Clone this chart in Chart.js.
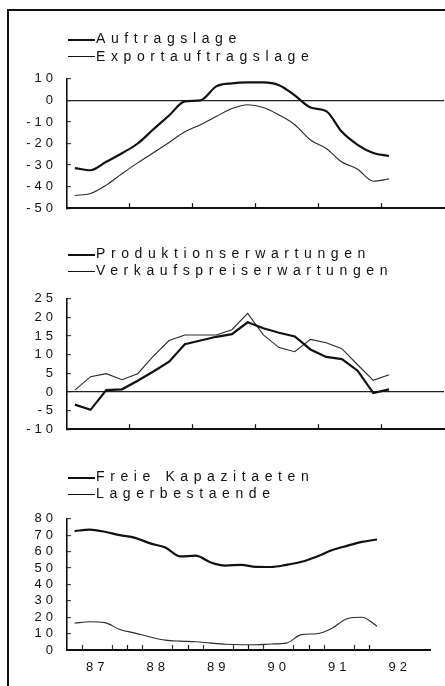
<!DOCTYPE html>
<html>
<head>
<meta charset="utf-8">
<script src="https://cdn.jsdelivr.net/npm/chart.js@4.4.1/dist/chart.umd.min.js"></script>
<style>
    html, body { margin: 0; padding: 0; background: #fff; }
    #page { position: relative; width: 445px; height: 686px; overflow: hidden; }
    #frame { position: absolute; left: 7px; top: 9px; width: 440px; height: 680px;
             border-top: 2px solid #111; border-left: 2px solid #111; }
    canvas { position: absolute; left: 0; }
    .leg { position: absolute; left: 68px; height: 17px; line-height: 17px;
           font-family: 'Liberation Sans', Arial, sans-serif; font-size: 14px; letter-spacing: 5.6px;
           color: #111; white-space: nowrap; }
    .leg .ln { position: absolute; left: 0; width: 27px; background: #111; }
    .leg .tx { position: absolute; left: 28px; }
</style>
</head>
<body>
<div id="page">
    <div id="frame"></div>
    <canvas id="c1" width="445" height="173" style="top:57px"></canvas>
    <canvas id="c2" width="445" height="174" style="top:277px"></canvas>
    <canvas id="c3" width="445" height="183" style="top:497px"></canvas>
</div>
<script>
    'use strict';

    // Quartalsmitten 1987 I .. 1992 I
    const quarters = [1987.125, 1987.375, 1987.625, 1987.875, 1988.125, 1988.375, 1988.625, 1988.875,
        1989.125, 1989.375, 1989.625, 1989.875, 1990.125, 1990.375, 1990.625, 1990.875,
        1991.125, 1991.375, 1991.625, 1991.875, 1992.125];

    const auftragslage = [-31.4, -32.4, -28.5, -24.5, -20.0, -13.4, -7.0, -0.5, 0.0, 6.5, 7.9,
        8.3, 8.3, 7.0, 2.3, -3.3, -5.0, -14.6, -20.6, -24.4, -25.8];
    const exportauftragslage = [-44.1, -43.2, -39.3, -34.0, -29.0, -24.3, -19.5, -14.6, -11.3, -7.5, -3.8,
        -2.0, -3.3, -6.8, -11.3, -18.4, -22.3, -28.6, -31.9, -37.5, -36.4];

    const produktion = [-3.4, -4.8, 0.5, 0.7, 3.0, 5.5, 8.1, 12.8, 13.8, 14.8, 15.5,
        18.7, 17.1, 15.9, 14.9, 11.4, 9.4, 8.8, 5.7, -0.3, 0.7];
    const verkaufspreise = [0.5, 4.1, 4.9, 3.3, 4.9, 9.6, 13.8, 15.3, 15.3, 15.3, 16.7,
        21.1, 15.3, 11.9, 10.8, 14.1, 13.2, 11.6, 7.3, 3.1, 4.6];

    const kapazitaeten = [72.5, 73.4, 72.1, 70.0, 68.4, 65.0, 62.5, 57.1, 57.5, 53.4, 51.5,
        51.9, 50.7, 50.6, 51.9, 53.8, 56.9, 60.8, 63.5, 65.9, 67.4];
    const lager = [16.3, 17.2, 16.7, 12.5, 10.3, 7.9, 6.0, 5.4, 5.0, 4.2, 3.5,
        3.2, 3.2, 3.7, 4.2, 9.4, 9.9, 13.1, 19.1, 20.0, 14.5];

    const yearLabels = ['87', '88', '89', '90', '91', '92'];
    const yearTicks = [1988, 1989, 1990, 1991, 1992];

    const panels = [
        { id: 'c1', legendTop: 30, names: ['Auftragslage', 'Exportauftragslage'],
          series: [auftragslage, exportauftragslage], min: -50, max: 10, step: 10,
          padTop: 10.6, xHeight: 20, zeroLine: true, smooth: true, labels: false, quarterTicks: false },
        { id: 'c2', legendTop: 244.5, names: ['Produktionserwartungen', 'Verkaufspreiserwartungen'],
          series: [produktion, verkaufspreise], min: -10, max: 25, step: 5,
          padTop: 10, xHeight: 20, zeroLine: true, smooth: false, labels: false, quarterTicks: false },
        { id: 'c3', legendTop: 467.5, names: ['Freie Kapazitaeten', 'Lagerbestaende'],
          series: [kapazitaeten, lager], min: 0, max: 80, step: 10,
          padTop: 10.5, xHeight: 30, zeroLine: false, smooth: true, labels: true, quarterTicks: true }
    ];

    const lineStyles = [
        { color: '#111', width: 2.2 },
        { color: '#2a2a2a', width: 1.1 }
    ];

    const tickFont = { family: 'Liberation Sans', size: 13 };

    const spacingPlugin = {
        id: 'spacing',
        beforeLayout(chart) { chart.ctx.letterSpacing = '4px'; },
        beforeDraw(chart) { chart.ctx.letterSpacing = '4px'; }
    };

    function addLegend(p) {
        const page = document.getElementById('page');
        p.names.forEach(function(name, i) {
            const row = document.createElement('div');
            row.className = 'leg';
            row.style.top = (p.legendTop + i * 17.5) + 'px';
            const ln = document.createElement('span');
            ln.className = 'ln';
            ln.style.top = (i === 0 ? 9 : 8.5) + 'px';
            ln.style.height = (i === 0 ? 2 : 1) + 'px';
            const tx = document.createElement('span');
            tx.className = 'tx';
            tx.textContent = name;
            row.appendChild(ln);
            row.appendChild(tx);
            page.appendChild(row);
        });
    }

    function xTickValues() {
        const vals = [];
        for (let y = 1987; y <= 1993; y += 0.25) {
            vals.push(y);
        }
        return vals;
    }

    function buildChart(p) {
        addLegend(p);
        const canvas = document.getElementById(p.id);
        const datasets = p.series.map(function(values, i) {
            return {
                label: p.names[i],
                data: quarters.map(function(q, k) { return { x: q, y: values[k] }; }),
                borderColor: lineStyles[i].color,
                borderWidth: lineStyles[i].width,
                pointRadius: 0,
                fill: false,
                tension: p.smooth ? 0.4 : 0,
                cubicInterpolationMode: p.smooth ? 'monotone' : 'default'
            };
        });

        return new Chart(canvas.getContext('2d'), {
            type: 'line',
            data: { datasets: datasets },
            options: {
                responsive: false,
                animation: false,
                devicePixelRatio: 1,
                layout: { padding: { top: p.padTop, right: 1, bottom: 0, left: 0 } },
                plugins: { legend: { display: false }, tooltip: { enabled: false } },
                scales: {
                    x: {
                        type: 'linear',
                        min: 1987,
                        max: 1993,
                        afterBuildTicks: function(scale) {
                            scale.ticks = xTickValues().map(function(v) { return { value: v }; });
                        },
                        afterFit: function(scale) { scale.height = p.xHeight; },
                        grid: {
                            drawOnChartArea: false,
                            drawTicks: true,
                            tickLength: -5,
                            tickWidth: 1.2,
                            tickColor: function(ctx) {
                                const v = ctx.tick.value;
                                if (yearTicks.indexOf(v) >= 0) return '#111';
                                if (p.quarterTicks && v > 1987 && v < 1992.2 && v % 0.5 !== 0) return '#333';
                                return 'rgba(0,0,0,0)';
                            }
                        },
                        border: { display: true, color: '#111', width: 2, dash: [12, 4] },
                        ticks: {
                            display: p.labels,
                            autoSkip: false,
                            maxRotation: 0,
                            padding: 15,
                            color: '#111',
                            font: tickFont,
                            callback: function(value) {
                                if (value % 1 !== 0.5) return '';
                                return yearLabels[Math.floor(value) - 1987] || '';
                            }
                        }
                    },
                    y: {
                        min: p.min,
                        max: p.max,
                        afterFit: function(scale) { scale.width = 67; },
                        grid: {
                            drawOnChartArea: true,
                            drawTicks: true,
                            tickLength: -4,
                            tickWidth: 1,
                            tickColor: '#222',
                            lineWidth: 1.3,
                            color: function(ctx) {
                                return (p.zeroLine && ctx.tick && ctx.tick.value === 0) ? '#222' : 'rgba(0,0,0,0)';
                            }
                        },
                        border: { display: true, color: '#111', width: 1.6 },
                        ticks: {
                            stepSize: p.step,
                            autoSkip: false,
                            padding: 14,
                            color: '#111',
                            font: tickFont,
                            callback: function(value) { return String(value); }
                        }
                    }
                }
            },
            plugins: [spacingPlugin]
        });
    }

    panels.forEach(buildChart);
</script>
</body>
</html>
